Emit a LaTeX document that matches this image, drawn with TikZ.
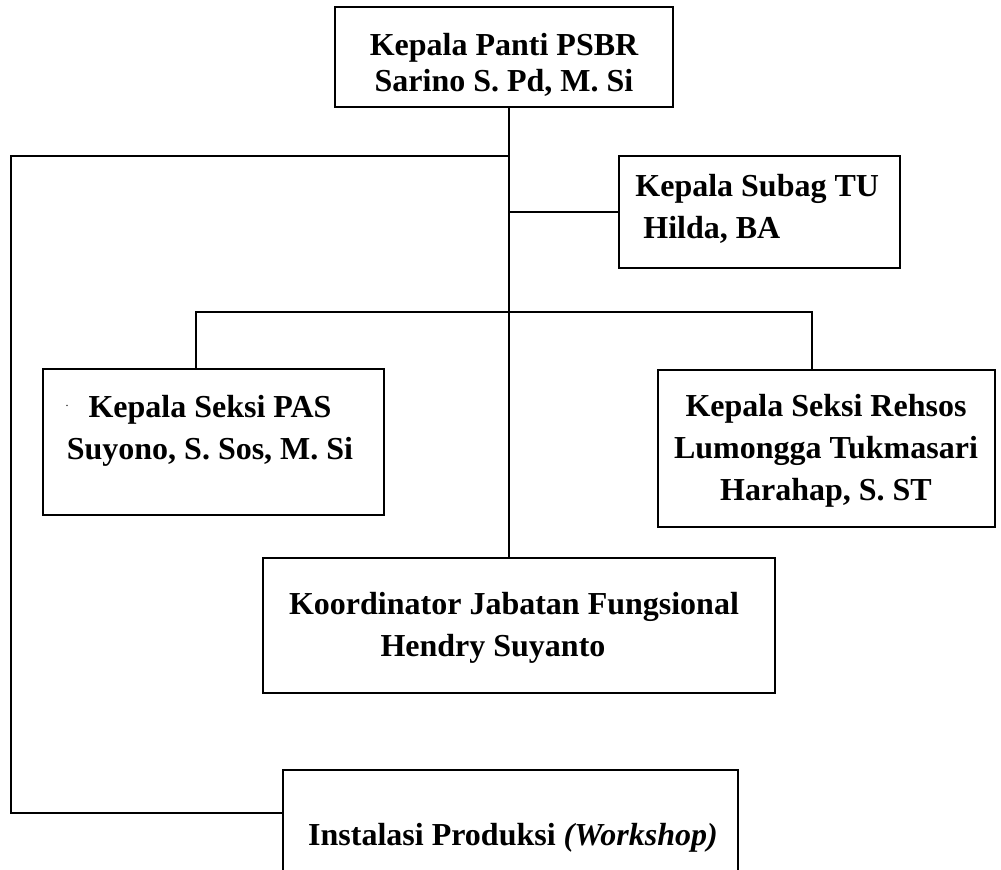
\documentclass[tikz,border=0pt]{standalone}
\usepackage{fontspec}
\setmainfont{Liberation Serif}

\tikzset{
  box/.style={draw, line width=1pt, inner sep=0pt},
  lbl/.style={font=\bfseries\fontsize{16}{21}\selectfont, align=center, inner sep=0pt},
  link/.style={line width=1pt}
}

\begin{document}
\begin{tikzpicture}[x=0.5pt, y=-0.5pt]
\clip (0,0) rectangle (1001,870);
% boxes
\node[box, minimum width=169pt, minimum height=50pt] (panti) at (504,57) {};
\node[box, minimum width=140.5pt, minimum height=56pt] (subag) at (759.5,212) {};
\node[box, minimum width=170.5pt, minimum height=73pt] (pas) at (213.5,442) {};
\node[box, minimum width=168.5pt, minimum height=78.5pt] (rehsos) at (826.5,448.5) {};
\node[box, minimum width=256pt, minimum height=67.5pt] (koord) at (519,625.5) {};
\node[box, minimum width=227.5pt, minimum height=65pt] (instal) at (510.5,835) {};
% texts
\node[lbl, font=\bfseries\fontsize{16}{18}\selectfont] (panti-t) at (504,65) {Kepala Panti PSBR\\Sarino S. Pd, M. Si};
\node[lbl, anchor=west, align=left] (subag-t) at (635,208.5) {Kepala Subag TU\\\hspace*{0.25em}Hilda, BA};
\node[lbl] (pas-t) at (210,431) {Kepala Seksi PAS\\Suyono, S. Sos, M. Si};
\node[font=\fontsize{6}{6}\selectfont, inner sep=0pt] (pas-dot) at (67,406) {.};
\node[lbl] (rehsos-t) at (826,451) {Kepala Seksi Rehsos\\Lumongga Tukmasari\\Harahap, S. ST};
\node[lbl] (koord-t) at (514,628) {Koordinator Jabatan Fungsional\\Hendry Suyanto\hspace*{21pt}};
\node[lbl] (instal-t) at (513,838) {Instalasi Produksi \textit{(Workshop)}};
% lines
\coordinate (trunk) at (509,107);
\coordinate (lefttop) at (11,156);
\coordinate (leftbot) at (11,813);
\coordinate (brl) at (196,312);
\coordinate (brr) at (812,312);
\draw[link] (trunk) -- (trunk |- koord.north);
\draw[link] (trunk |- lefttop) -- (lefttop) -- (leftbot) -- (leftbot -| instal.west);
\draw[link] (subag.west) -- (subag.west -| trunk);
\draw[link] (brl |- pas.north) -- (brl) -- (brr) -- (brr |- rehsos.north);
\end{tikzpicture}
\end{document}
